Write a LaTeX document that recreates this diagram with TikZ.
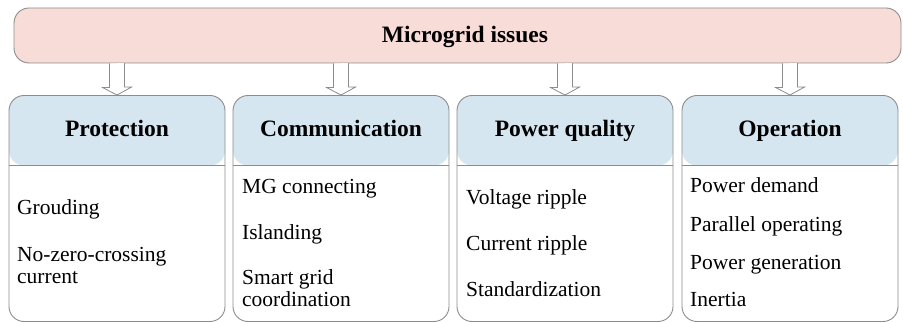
\documentclass[tikz,border=0pt]{standalone}
\usepackage{fontspec}
\setmainfont{Liberation Serif}
\usetikzlibrary{calc}
\definecolor{issuepink}{RGB}{248,220,215}
\definecolor{headblue}{RGB}{214,230,240}
\definecolor{boxline}{RGB}{140,140,140}

\begin{document}
\begin{tikzpicture}[x=1pt,y=-1pt,
        issuebox/.style={draw=boxline,line width=0.9pt,rounded corners=15pt,minimum width=\W pt,minimum height=226pt,inner sep=0pt,
            path picture={\fill[headblue] (path picture bounding box.north west) rectangle ([yshift=-70pt]path picture bounding box.north east);}},
        headtxt/.style={font=\fontsize{23.5}{28}\selectfont\bfseries,anchor=base,inner sep=0pt},
        itemtxt/.style={font=\fontsize{21.5}{22}\selectfont,anchor=base west,align=left,inner sep=0pt},
        hollow/.style={draw=boxline,fill=white,line width=0.8pt}]
        \def\W{216} % width of a box
        \def\H{7.5} % half width of arrow shaft
        \useasboundingbox (0,0) rectangle (903,323);

        \node[draw=boxline,fill=issuepink,line width=0.9pt,rounded corners=15pt,minimum width=887pt,minimum height=55pt] (issues) at (457.5,35.5) {};
        \node[headtxt] (title) at (465,43) {Microgrid issues};

        \foreach \n/\x/\t in {prot/117/Protection,comm/341/Communication,pq/565/Power quality,oper/790/Operation} {
                \node[issuebox] (\n) at (\x,208.5) {};
                \draw[boxline,line width=0.9pt] ([yshift=-70pt]\n.north west) -- ([yshift=-70pt]\n.north east);
                \node[headtxt] (\n head) at (\x,137) {\t};
                \draw[hollow] ($(issues.south -| \n.north)+(-\H,0)$) -- ++(0,24) -- ++(-7,0) -- (\n.north) -- ++(14.5,-8) -- ++(-7,0) -- ++(0,-24);
        }
        \foreach \x/\y/\t [count=\i] in {17/215/Grouding,17/284/{No-zero-crossing\\current},
                242/194/MG connecting,242/240/Islanding,242/307/{Smart grid\\coordination},
                466/205/Voltage ripple,466/251/Current ripple,466/297/Standardization,
                690/193/Power demand,690/232/Parallel operating,690/270/Power generation,690/307/Inertia}
                \node[itemtxt] (item\i) at (\x,\y) {\t};
    \end{tikzpicture}
\end{document}
